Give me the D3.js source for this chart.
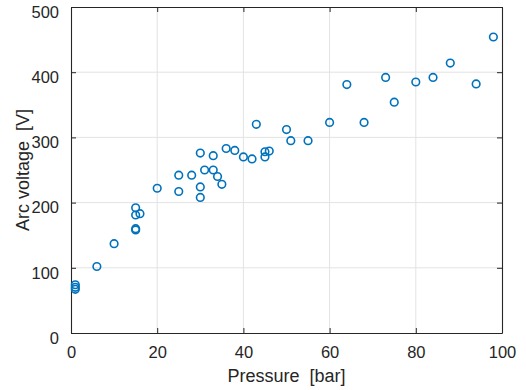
<!DOCTYPE html>
<html>
<head>
<meta charset="utf-8">
<script src="https://cdn.jsdelivr.net/npm/d3@7"></script>
<style>
  body { margin: 0; background: #fff; }
  svg { display: block; font-family: "Liberation Sans", Arial, sans-serif; }
</style>
</head>
<body>
<div id="chart"></div>
<script>
const pressure = [1, 1, 1, 6, 10, 15, 15, 16, 15, 15, 20, 25, 25, 28, 30, 30, 30, 31, 33, 33,
  34, 35, 36, 38, 40, 42, 43, 45, 45, 46, 50, 51, 55, 60, 64, 68, 73, 75, 80, 84, 88, 94, 98];
const voltage = [74, 70, 67, 102, 137, 192, 181, 183, 160, 158, 222, 242, 217, 242, 276, 224, 208, 250, 272, 250,
  240, 228, 283, 280, 270, 267, 320, 278, 270, 279, 312, 295, 295, 323, 381, 323, 392, 354, 385, 392, 414, 382, 454];
const xTicks = [0, 20, 40, 60, 80, 100];
const yTicks = [0, 100, 200, 300, 400, 500];

const width = 526, height = 390;
const margin = { top: 7, right: 24, bottom: 57, left: 71 };
const iw = width - margin.left - margin.right;
const ih = height - margin.top - margin.bottom;

const x = d3.scaleLinear().domain([0, 100]).range([0, iw]);
const y = d3.scaleLinear().domain([0, 500]).range([ih, 0]);

const svg = d3.select("#chart").append("svg")
  .attr("width", width)
  .attr("height", height);

const g = svg.append("g")
  .attr("transform", `translate(${margin.left},${margin.top})`);

// grid
g.append("g").selectAll("line")
  .data(xTicks.slice(1, -1))
  .join("line")
  .attr("x1", d => x(d)).attr("x2", d => x(d))
  .attr("y1", 0).attr("y2", ih)
  .attr("stroke", "#e3e3e3");
g.append("g").selectAll("line")
  .data(yTicks.slice(1, -1))
  .join("line")
  .attr("x1", 0).attr("x2", iw)
  .attr("y1", d => y(d)).attr("y2", d => y(d))
  .attr("stroke", "#e3e3e3");

// axes, ticks inward on all sides
const axisColor = "#262626";
const fs = 16.5;

const xAxis = g.append("g").attr("transform", `translate(0,${ih})`)
  .call(d3.axisBottom(x).tickValues(xTicks).tickSizeInner(-5).tickSizeOuter(0).tickPadding(13));
const xTop = g.append("g")
  .call(d3.axisTop(x).tickValues(xTicks).tickSizeInner(-5).tickSizeOuter(0).tickFormat(""));
const yAxis = g.append("g")
  .call(d3.axisLeft(y).tickValues(yTicks).tickSizeInner(-5).tickSizeOuter(0).tickPadding(12));
const yRight = g.append("g").attr("transform", `translate(${iw},0)`)
  .call(d3.axisRight(y).tickValues(yTicks).tickSizeInner(-5).tickSizeOuter(0).tickFormat(""));

[xAxis, xTop, yAxis, yRight].forEach(a => {
  a.select(".domain").attr("stroke", axisColor).attr("stroke-width", 1.1);
  a.selectAll(".tick line").attr("stroke", axisColor);
  a.selectAll(".tick text")
    .attr("fill", axisColor)
    .style("font-size", fs + "px")
    .style("font-family", "Liberation Sans, Arial, sans-serif");
});
yAxis.selectAll(".tick text").attr("dy", "0.62em");

// points
g.append("g").selectAll("circle")
  .data(pressure.map((p, i) => [p, voltage[i]]))
  .join("circle")
  .attr("cx", d => x(d[0]))
  .attr("cy", d => y(d[1]))
  .attr("r", 3.8)
  .attr("fill", "none")
  .attr("stroke", "#0072BD")
  .attr("stroke-width", 1.6);

// labels (nbsp keeps the double space)
svg.append("text")
  .attr("x", margin.left + iw / 2)
  .attr("y", 382)
  .attr("text-anchor", "middle")
  .attr("fill", axisColor)
  .style("font-size", "18px")
  .text("Pressure\u00a0\u00a0[bar]");

svg.append("text")
  .attr("transform", `translate(29,${margin.top + ih / 2}) rotate(-90)`)
  .attr("text-anchor", "middle")
  .attr("fill", axisColor)
  .style("font-size", "18px")
  .text("Arc voltage\u00a0\u00a0[V]");
</script>
</body>
</html>
